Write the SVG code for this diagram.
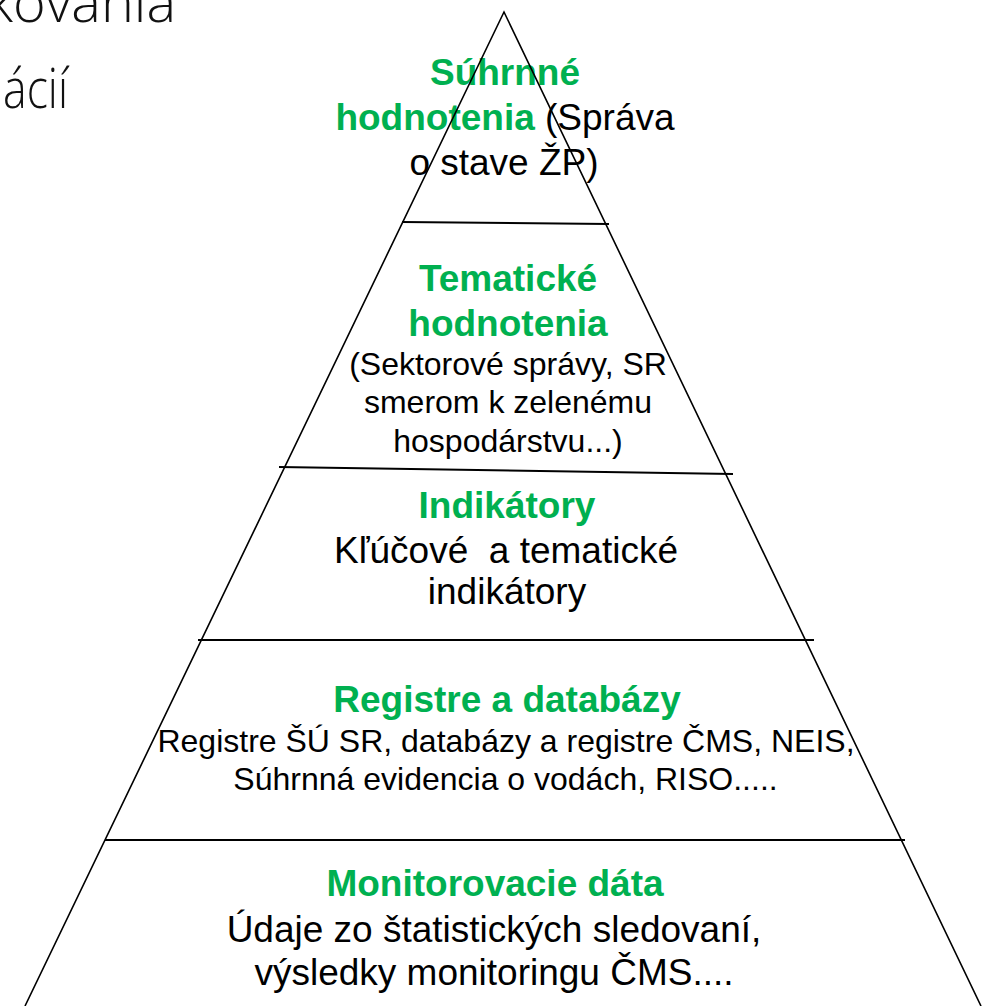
<svg xmlns="http://www.w3.org/2000/svg" width="982" height="1006" viewBox="0 0 982 1006">
<style>
text{font-family:"Liberation Sans",Arial,sans-serif;text-anchor:middle;}
.g{fill:#00B050;font-weight:bold;font-size:37px;}
.b{fill:#000;font-size:37px;}
.s{fill:#000;font-size:32px;}
.bg{font-family:"Open Sans","Noto Sans",sans-serif;font-weight:300;font-size:55px;fill:#111;text-anchor:start;}
.ln{stroke:#000;stroke-width:1.6;fill:none;}
.dv{stroke:#000;stroke-width:2;fill:none;}
</style>
<rect width="982" height="1006" fill="#fff"/>
<g id="background-title">
<text class="bg" x="-14" y="22" textLength="190" lengthAdjust="spacingAndGlyphs">kovania</text>
<text class="bg" x="3" y="108" textLength="65" lengthAdjust="spacingAndGlyphs">ácií</text>
</g>
<g id="tier-1">
<text class="g" x="505" y="85">Súhrnné</text>
<text x="505" y="130"><tspan class="g">hodnotenia</tspan><tspan class="b"> (Správa</tspan></text>
<text class="b" x="504" y="175">o stave ŽP)</text>
</g>
<g id="tier-2">
<text class="g" x="508" y="291">Tematické</text>
<text class="g" x="508" y="336">hodnotenia</text>
<text class="s" x="508" y="375">(Sektorové správy, SR</text>
<text class="s" x="508" y="413">smerom k zelenému</text>
<text class="s" x="508" y="452">hospodárstvu...)</text>
</g>
<g id="tier-3">
<text class="g" x="507" y="518">Indikátory</text>
<text class="b" x="506" y="563" xml:space="preserve">Kľúčové  a tematické</text>
<text class="b" x="507" y="604">indikátory</text>
</g>
<g id="tier-4">
<text class="g" x="507" y="712">Registre a databázy</text>
<text class="s" x="506" y="752">Registre ŠÚ SR, databázy a registre ČMS, NEIS,</text>
<text class="s" x="505.5" y="790">Súhrnná evidencia o vodách, RISO.....</text>
</g>
<g id="tier-5">
<text class="g" x="495" y="896">Monitorovacie dáta</text>
<text class="b" x="494" y="942">Údaje zo štatistických sledovaní,</text>
<text class="b" x="494" y="985">výsledky monitoringu ČMS....</text>
</g>
<g id="connectors">
<polyline class="ln" points="25,1006 504,12 981,1006"/>
<line class="dv" x1="402" y1="222" x2="609" y2="224"/>
<line class="dv" x1="279" y1="467" x2="733" y2="474"/>
<line class="dv" x1="198" y1="640" x2="814" y2="640"/>
<line class="dv" x1="105" y1="840" x2="905" y2="840"/>
</g>
</svg>
